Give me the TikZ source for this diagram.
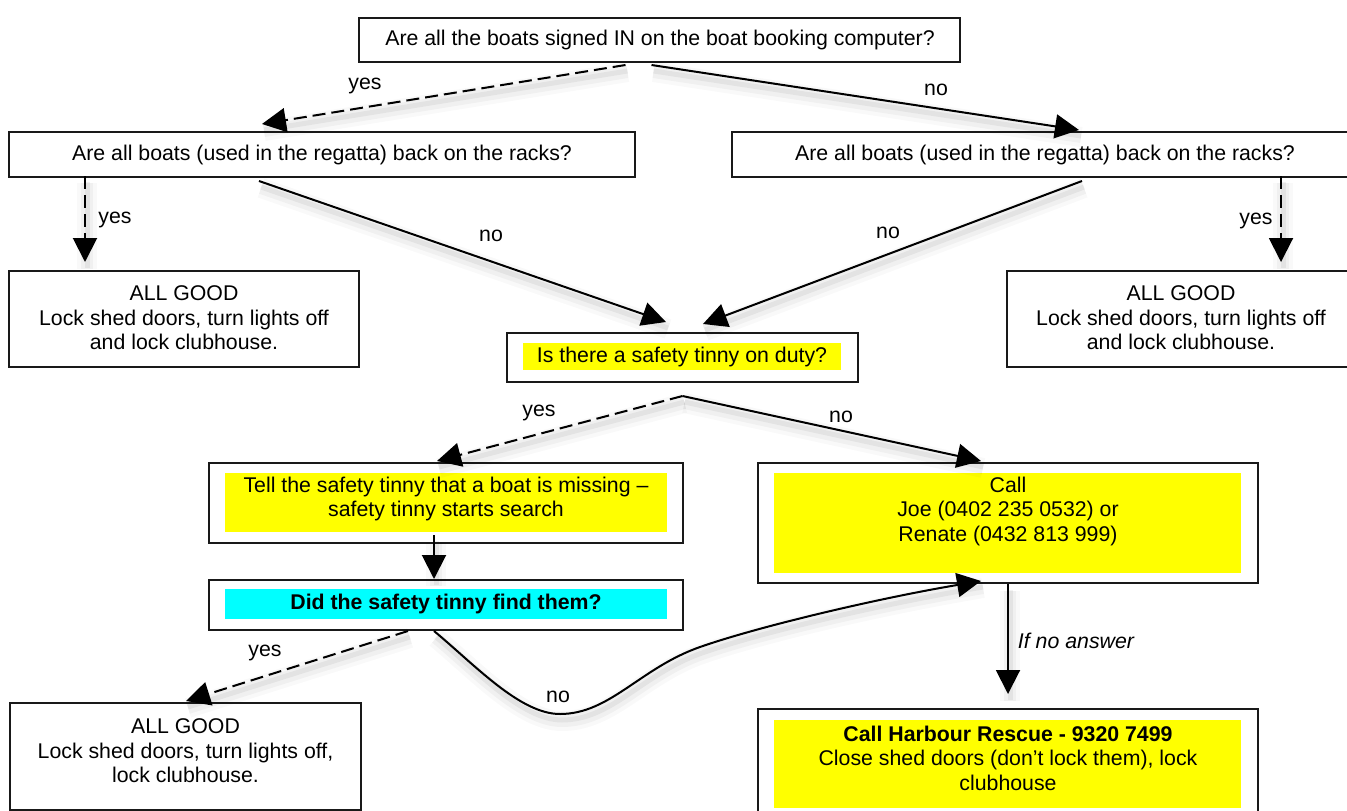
\documentclass[tikz,border=0pt]{standalone}
\usepackage{fontspec}
\setmainfont{Liberation Sans}
\usetikzlibrary{arrows.meta,calc}
\newcommand\diafont{\fontsize{21.3}{24.5}\selectfont}
\definecolor{hlyellow}{RGB}{255,255,0}
\definecolor{hlcyan}{RGB}{0,255,255}
\begin{document}
\begin{tikzpicture}[x=1pt,y=-1pt,
  box/.style={draw=black!90, line width=2pt, inner sep=0pt},
  txt/.style={inner sep=0pt, align=center, font=\diafont},
  lbl/.style={inner sep=0pt, font=\diafont},
  hl/.style={fill=hlyellow, inner sep=0pt},
  hlc/.style={fill=hlcyan, inner sep=0pt},
  shd/.style={preaction={draw=black, -, solid, opacity=0.025, line width=20pt, transform canvas={shift={(2pt,-7pt)}}},
              preaction={draw=black, -, solid, opacity=0.035, line width=12pt, transform canvas={shift={(2pt,-7pt)}}},
              preaction={draw=black, -, solid, opacity=0.05, line width=5pt, transform canvas={shift={(2pt,-6pt)}}}},
  arr/.style={shd, line width=2pt, -{Triangle[length=24pt,width=24pt]}},
  dsh/.style={dash pattern=on 13pt off 6pt}
]
\useasboundingbox (0,0) rectangle (1347,811);
\clip (0,0) rectangle (1347,811);
\fill[white] (0,0) rectangle (1347,811);

% boxes
\node[box, minimum width=601pt, minimum height=44pt] (top) at (659.5,40) {};
\node[txt] (topt) at (660,40) {Are all the boats signed IN on the boat booking computer?};

\node[box, minimum width=626pt, minimum height=45pt] (L1) at (322,154.5) {};
\node[txt] (L1t) at (322,155) {Are all boats (used in the regatta) back on the racks?};

\node[box, minimum width=626pt, minimum height=45pt] (R1) at (1045,154.5) {};
\node[txt] (R1t) at (1045,155) {Are all boats (used in the regatta) back on the racks?};

\node[box, minimum width=350pt, minimum height=96pt] (LG) at (184,319) {};
\node[txt] (LGt) at (184,318) {ALL GOOD\\Lock shed doors, turn lights off\\and lock clubhouse.};

\node[box, minimum width=350pt, minimum height=96pt] (RG) at (1182,319) {};
\node[txt] (RGt) at (1181,318) {ALL GOOD\\Lock shed doors, turn lights off\\and lock clubhouse.};

\node[box, minimum width=351pt, minimum height=49pt] (Q) at (682.5,357.5) {};
\node[hl, minimum width=318pt, minimum height=27pt] (Qh) at (682,356.5) {};
\node[txt] (Qt) at (682,357) {Is there a safety tinny on duty?};

\node[box, minimum width=474pt, minimum height=80pt] (T) at (446,503) {};
\node[hl, minimum width=442pt, minimum height=59pt] (Th) at (446,502.5) {};
\node[txt] (Tt) at (446,499) {Tell the safety tinny that a boat is missing --\\safety tinny starts search};

\node[box, minimum width=474pt, minimum height=50pt] (D) at (446,605) {};
\node[hlc, minimum width=442pt, minimum height=30pt] (Dh) at (446,604) {};
\node[txt] (Dt) at (446,604) {\bfseries Did the safety tinny find them?};

\node[box, minimum width=500pt, minimum height=120pt] (C) at (1008,523) {};
\node[hl, minimum width=467pt, minimum height=100pt] (Ch) at (1007.5,523) {};
\node[txt] (Ct) at (1008,511) {Call\\Joe (0402 235 0532) or\\Renate (0432 813 999)};

\node[box, minimum width=500pt, minimum height=122pt] (H) at (1008,770) {};
\node[hl, minimum width=467pt, minimum height=88pt] (Hh) at (1007.5,764) {};
\node[txt] (Ht) at (1008,758) {\bfseries Call Harbour Rescue - 9320 7499\\Close shed doors (don’t lock them), lock\\clubhouse};

\node[box, minimum width=351pt, minimum height=107pt] (LG2) at (185.5,756.5) {};
\node[txt] (LG2t) at (185.5,751) {ALL GOOD\\Lock shed doors, turn lights off,\\lock clubhouse.};

% connectors
\draw[arr,dsh] ($(top.south)+(-34,2)$) -- ($(L1.north)+(-60,-7)$);
\node[lbl] (y1) at (365,86) {yes};
\draw[arr] ($(top.south)+(-8,2)$) -- ($(R1.north)+(34,-1)$);
\node[lbl] (n1) at (936,90) {no};

\draw[arr,dsh] ($(L1.south)+(-237,-2)$) -- ($(LG.north)+(-99,-8)$);
\node[lbl] (y2) at (115,220) {yes};
\draw[arr] ($(L1.south)+(-63,3)$) -- ($(Q.north)+(-16.5,-10)$);
\node[lbl] (n2) at (491,236) {no};

\draw[arr,dsh] ($(R1.south)+(236,-2)$) -- ($(RG.north)+(99,-8)$);
\node[lbl] (y3) at (1256,221) {yes};
\draw[arr] ($(R1.south)+(37,3)$) -- ($(Q.north)+(20.5,-8)$);
\node[lbl] (n3) at (888,233) {no};

\coordinate (qv) at ($(Q.south)+(0,13)$);
\draw[arr,dsh] (qv) -- ($(T.north)+(-9,-1)$);
\node[lbl] (y4) at (539,413) {yes};
\draw[arr] (qv) -- ($(C.north)+(-27,-1)$);
\node[lbl] (n4) at (841,417) {no};

\draw[arr] ($(T.south)+(-12,-9)$) -- ($(D.north)+(-12,0)$);

\draw[arr,dsh] ($(D.south)+(-38,0)$) -- ($(LG2.north)+(0.5,-1)$);
\node[lbl] (y5) at (265,653) {yes};

\draw[arr] ($(D.south)+(-12,0)$) .. controls (475,665) and (520,714) .. (560,714)
  .. controls (610,714) and (640,668) .. (700,647)
  .. controls (760,626) and (880,598) .. ($(C.south)+(-27,-3)$);
\node[lbl] (n5) at (558,697) {no};

\draw[arr] (C.south) -- ($(H.north)+(0,-14)$);
\node[lbl] (ifn) at (1076,641) {\itshape If no answer};
\end{tikzpicture}
\end{document}
